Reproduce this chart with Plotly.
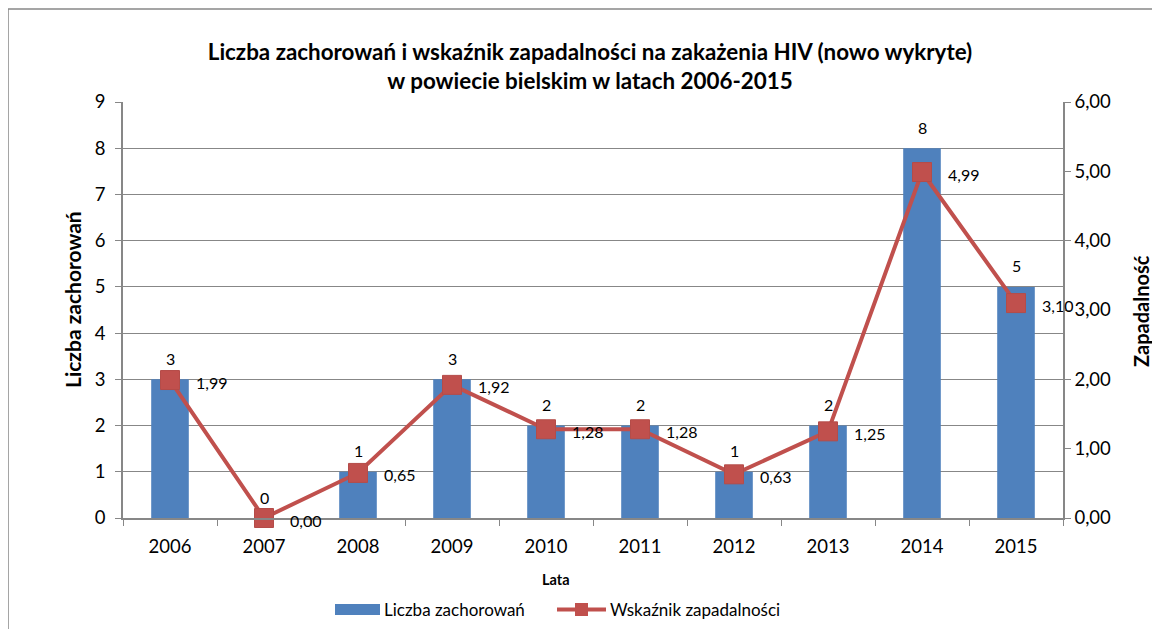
import plotly.graph_objects as go

years = ["2006", "2007", "2008", "2009", "2010", "2011", "2012", "2013", "2014", "2015"]
cases = [3, 0, 1, 3, 2, 2, 1, 2, 8, 5]
incidence = [1.99, 0.00, 0.65, 1.92, 1.28, 1.28, 0.63, 1.25, 4.99, 3.10]

FONT = "Lato"
BLUE = "#4F81BD"
RED = "#C0504D"
GRAY = "#878787"

# page has an 8px body margin: work in screen pixels and subtract it
OFF = 8
W, H = 1160 - OFF, 629 - OFF
L, R, T, B = 123 - OFF, 1063 - OFF, 102 - OFF, 518 - OFF
PW, PH = R - L, B - T


def px_x(sx):
    return (sx - OFF - L) / PW


def px_y(sy):
    return (B - (sy - OFF)) / PH


fig = go.Figure()
fig.add_trace(go.Bar(
    x=years, y=cases, name="Liczba zachorowań",
    marker=dict(color=BLUE, line=dict(width=0)),
    yaxis="y",
))
fig.add_trace(go.Scatter(
    x=years, y=incidence, name="Wskaźnik zapadalności", yaxis="y2",
    mode="lines+markers",
    line=dict(color=RED, width=4),
    marker=dict(symbol="square", size=19, color=RED, line=dict(color="#B44C49", width=1)),
    cliponaxis=False,
))

annotations = []
# category axis: annotation x given as category index
for i, c in enumerate(cases):
    annotations.append(dict(
        x=i, y=c, xref="x", yref="y", text=str(c), showarrow=False,
        xanchor="center", yanchor="middle",
        yshift=21, font=dict(size=16, family=FONT, color="#000000"),
    ))
for i, v in enumerate(incidence):
    annotations.append(dict(
        x=i, y=v, xref="x", yref="y2", text=f"{v:.2f}".replace(".", ","),
        showarrow=False, xanchor="left", yanchor="middle", xshift=24, yshift=-2,
        font=dict(size=16, family=FONT, color="#000000"),
    ))
annotations += [
    dict(text="<b>Liczba zachorowań</b>", xref="paper", yref="paper",
         x=px_x(72), y=px_y(300), xanchor="center", yanchor="middle",
         textangle=-90, showarrow=False,
         font=dict(size=21, family=FONT, color="#000000")),
    dict(text="<b>Zapadalność</b>", xref="paper", yref="paper",
         x=px_x(1141), y=px_y(311), xanchor="center", yanchor="middle",
         textangle=-90, showarrow=False,
         font=dict(size=20, family=FONT, color="#000000")),
    dict(text="<b>Lata</b>", xref="paper", yref="paper",
         x=px_x(556), y=px_y(579), xanchor="center", yanchor="middle",
         showarrow=False,
         font=dict(size=14.5, family=FONT, color="#000000")),
    # legend texts
    dict(text="Liczba zachorowań", xref="paper", yref="paper",
         x=px_x(382), y=px_y(609), xanchor="left", yanchor="middle", showarrow=False,
         font=dict(size=17, family=FONT, color="#000000")),
    dict(text="Wskaźnik zapadalności", xref="paper", yref="paper",
         x=px_x(608), y=px_y(609), xanchor="left", yanchor="middle", showarrow=False,
         font=dict(size=17, family=FONT, color="#000000")),
]

shapes = [
    # outer chart frame (top and left edges visible in the crop)
    dict(type="line", xref="paper", yref="paper",
         x0=px_x(8), x1=px_x(1175), y0=px_y(9), y1=px_y(9),
         line=dict(color=GRAY, width=1.5)),
    dict(type="line", xref="paper", yref="paper",
         x0=px_x(8), x1=px_x(8), y0=px_y(9), y1=px_y(650),
         line=dict(color=GRAY, width=1.5)),
    # legend swatches
    dict(type="rect", xref="paper", yref="paper",
         x0=px_x(335), x1=px_x(380), y0=px_y(604), y1=px_y(615),
         fillcolor=BLUE, line=dict(width=0)),
    dict(type="line", xref="paper", yref="paper",
         x0=px_x(557), x1=px_x(606), y0=px_y(609.5), y1=px_y(609.5),
         line=dict(color=RED, width=4)),
    dict(type="rect", xref="paper", yref="paper",
         x0=px_x(575), x1=px_x(588), y0=px_y(603), y1=px_y(616),
         fillcolor=RED, line=dict(width=0)),
]

fig.update_layout(
    width=W, height=H,
    margin=dict(l=L, r=W - R, t=T, b=H - B, autoexpand=False),
    paper_bgcolor="white", plot_bgcolor="white",
    separators=", ",
    font=dict(family=FONT, size=18, color="#000000"),
    title=dict(
        text="<b>Liczba zachorowań i wskaźnik zapadalności na zakażenia HIV (nowo wykryte)</b><br><b>w powiecie bielskim w latach 2006-2015</b>",
        x=(590 - OFF) / W, xanchor="center", y=1 - (60 - OFF) / H, yanchor="middle",
        font=dict(size=22.4, family=FONT),
    ),
    bargap=0.6,
    showlegend=False,
    annotations=annotations,
    shapes=shapes,
    xaxis=dict(
        type="category", categoryorder="array", categoryarray=years,
        range=[-0.5, len(years) - 0.5],
        showline=True, linecolor=GRAY, linewidth=1.5,
        ticks="outside", tickson="boundaries", ticklen=6, tickcolor=GRAY,
        ticklabelstandoff=11,
        showgrid=False, tickfont=dict(size=18.5), automargin=False,
    ),
    yaxis=dict(
        range=[0, 9], dtick=1, showline=True, linecolor=GRAY, linewidth=1.5,
        ticks="outside", ticklen=6, tickcolor=GRAY, ticklabelstandoff=6,
        showgrid=True, gridcolor=GRAY, gridwidth=1, zeroline=False,
        tickfont=dict(size=18.5), automargin=False,
    ),
    yaxis2=dict(
        range=[0, 6], dtick=1, overlaying="y", side="right", tickformat=".2f",
        showline=True, linecolor=GRAY, linewidth=1.5,
        ticks="outside", ticklen=6, tickcolor=GRAY,
        showgrid=False, zeroline=False, tickfont=dict(size=18.5), automargin=False,
    ),
)

fig.write_html("out.html")
